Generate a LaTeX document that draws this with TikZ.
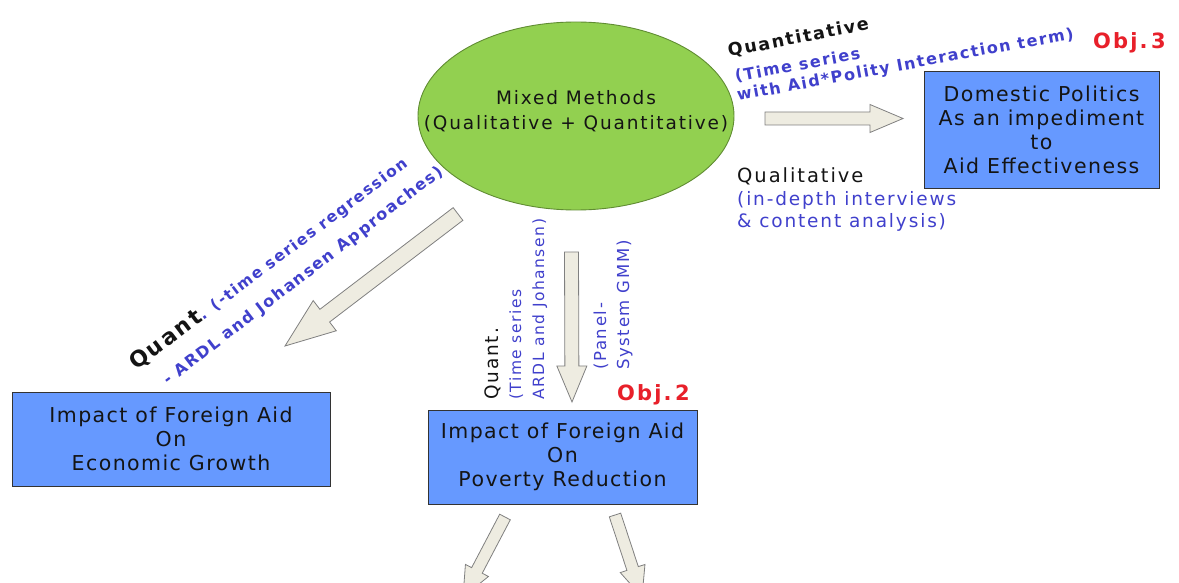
\documentclass[tikz,border=0pt]{standalone}
\usepackage{fontspec}
\setmainfont{DejaVu Sans}[LetterSpace=10]
\newfontfamily\boxfont{DejaVu Sans}[LetterSpace=7]
\usetikzlibrary{shapes.geometric,calc}
\definecolor{boxblue}{RGB}{102,153,255}
\definecolor{ellgreen}{RGB}{146,208,80}
\definecolor{elledge}{RGB}{96,140,50}
\definecolor{txtblue}{RGB}{64,64,204}
\definecolor{objred}{RGB}{232,32,42}
\definecolor{arrfill}{RGB}{238,236,225}
\definecolor{arredge}{RGB}{128,128,128}
\definecolor{txtdark}{RGB}{20,20,20}
\newcommand\blockarr[5]{%
  \coordinate (hb) at ($(#2)!#5!(#1)$);
  \draw[barrow] ($(#1)!#3!90:(#2)$) -- ($(hb)!#3!90:(#2)$) -- ($(hb)!#4!90:(#2)$) -- (#2)
     -- ($(hb)!#4!-90:(#2)$) -- ($(hb)!#3!-90:(#2)$) -- ($(#1)!#3!-90:(#2)$) -- cycle;}
\tikzset{
  boxn/.style={draw=black!80, fill=boxblue, line width=0.9pt, inner sep=0pt, align=center,
    text=txtdark, font=\boxfont\fontsize{20.5}{24}\selectfont},
  barrow/.style={fill=arrfill, draw=arredge, line width=0.8pt, line join=miter},
  lbl/.style={inner sep=0pt, anchor=base west},
  bluebold/.style={lbl, text=txtblue, font=\fontsize{16}{16}\selectfont\bfseries},
  bluereg/.style={lbl, text=txtblue, font=\fontsize{18.5}{18}\selectfont},
  objlbl/.style={lbl, text=objred, font=\fontsize{21}{21}\selectfont\bfseries},
}
\begin{document}
\begin{tikzpicture}[x=1pt,y=-1pt]
\useasboundingbox (0,0) rectangle (1179,583);
\clip (0,0) rectangle (1179,583);
\fill[white] (0,0) rectangle (1179,583);

% central ellipse
\node[ellipse, draw=elledge, fill=ellgreen, line width=0.9pt, minimum width=316pt, minimum height=188pt, inner sep=0pt] (mm) at (576,116) {};
\node[inner sep=0pt, align=center, text=txtdark, font=\fontsize{18.5}{25}\selectfont] (mmt) at (576,111) {Mixed Methods\\(Qualitative + Quantitative)};

% boxes
\node[boxn, minimum width=235pt, minimum height=117pt] (dom) at (1041.5,129.5) {Domestic Politics\\As an impediment\\to\\Aid Effectiveness};
\node[boxn, minimum width=318pt, minimum height=94pt] (eco) at (171,439) {Impact of Foreign Aid\\On\\Economic Growth};
\node[boxn, minimum width=269pt, minimum height=94pt] (pov) at (562.5,457) {Impact of Foreign Aid\\On\\Poverty Reduction};

% arrow end points
\coordinate (a1t) at (765,118.5);  \coordinate (a1h) at (903,118.5);
\coordinate (a2t) at (458,214);    \coordinate (a2h) at (285,346);
\coordinate (a3t) at (571.5,252);  \coordinate (a3h) at (572,402);
\coordinate (a4t) at (505,517);    \coordinate (a4h) at (463,597);
\coordinate (a5t) at (615,515);    \coordinate (a5h) at (642,597);

\blockarr{a1t}{a1h}{6.5pt}{14pt}{33pt}
\blockarr{a2t}{a2h}{8pt}{19pt}{50pt}
\blockarr{a3t}{a3h}{7pt}{15pt}{36pt}
\blockarr{a4t}{a4h}{6pt}{13pt}{30pt}
\blockarr{a5t}{a5h}{6pt}{13pt}{30pt}

% right side labels
\node[lbl, rotate=11, text=txtdark, font=\fontsize{17.5}{17}\selectfont\bfseries] (qt) at (729,57) {Quantitative};
\node[bluebold, rotate=10.5] (ts1) at (736,82) {(Time series};
\node[bluebold, rotate=10.5] (ts2) at (738,101) {with Aid*Polity Interaction term)};
\node[objlbl] (obj3) at (1093,49) {Obj.\,3};
\node[lbl, text=txtdark, font=\fontsize{19.5}{19}\selectfont] (ql) at (737,183) {Qualitative};
\node[bluereg] (ql1) at (737,206) {(in-depth interviews};
\node[bluereg] (ql2) at (737,227) {\& content analysis)};

% diagonal labels
\node[lbl, rotate=37] (dq1) at (136,371) {{\fontsize{22}{22}\selectfont\bfseries\color{txtdark}Quant}{\fontsize{15.5}{15}\selectfont\bfseries\color{txtblue}. (-time series regression}};
\node[lbl, rotate=37.5, text=txtblue, font=\fontsize{16}{15}\selectfont\bfseries] (dq2) at (168,386) {- ARDL and Johansen Approaches)};

% vertical labels
\node[lbl, rotate=90, text=txtdark, font=\fontsize{18.5}{18}\selectfont] (vq) at (498,400) {Quant.};
\node[lbl, rotate=90, text=txtblue, font=\fontsize{15.5}{15}\selectfont] (vt1) at (521,400) {(Time series};
\node[lbl, rotate=90, text=txtblue, font=\fontsize{15.5}{15}\selectfont] (vt2) at (544,400) {ARDL and Johansen)};
\node[lbl, rotate=90, text=txtblue, font=\fontsize{16.5}{16}\selectfont] (vp1) at (606,370) {(Panel-};
\node[lbl, rotate=90, text=txtblue, font=\fontsize{16.5}{16}\selectfont] (vp2) at (629,370) {System GMM)};
\node[objlbl] (obj2) at (617,400) {Obj.\,2};
\end{tikzpicture}
\end{document}
